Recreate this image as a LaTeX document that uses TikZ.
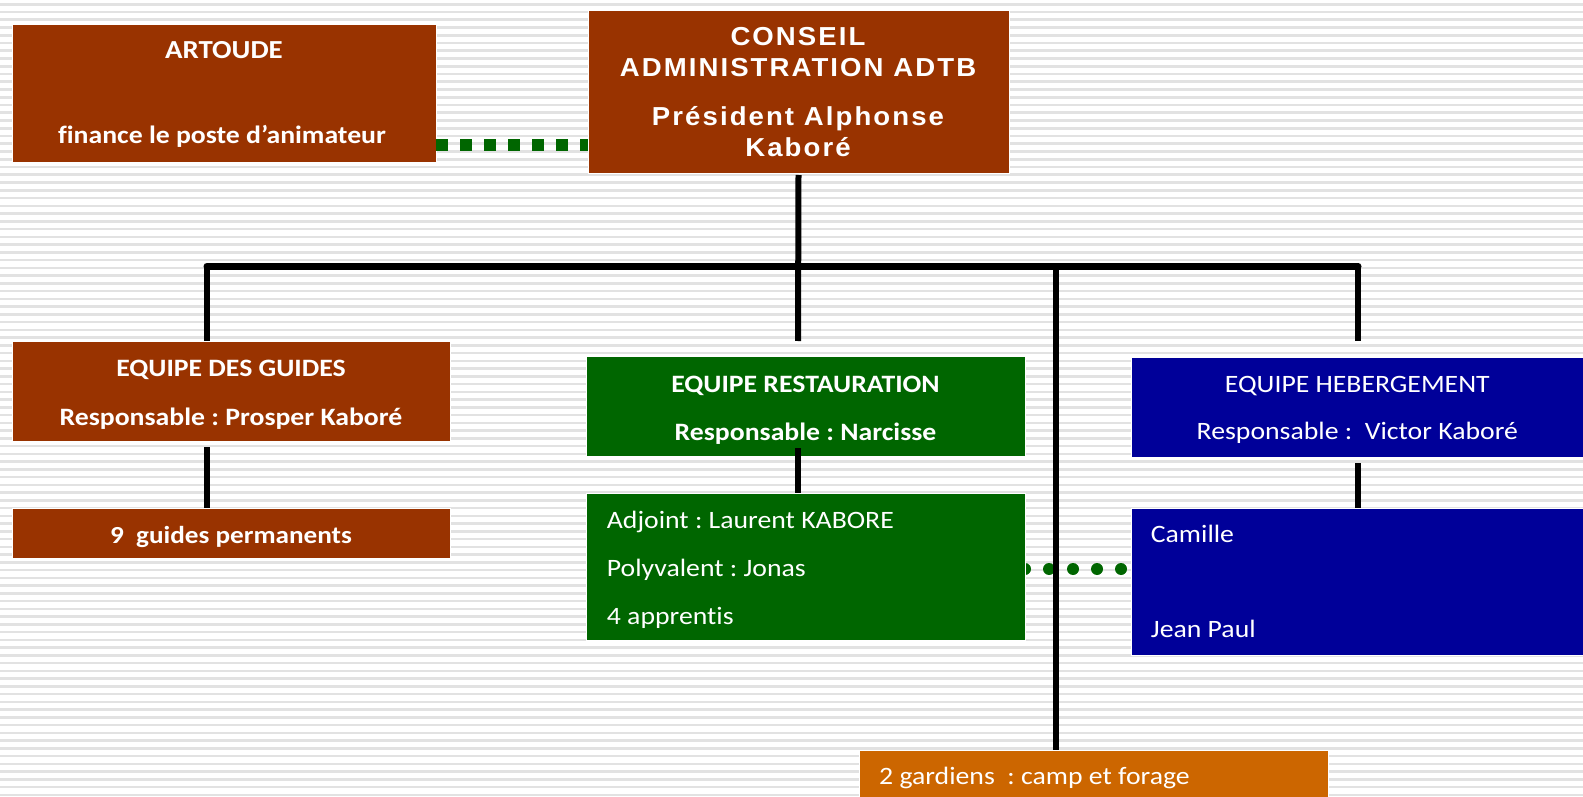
\documentclass[tikz,border=0pt]{standalone}
\usepackage{fontspec}
\setmainfont{Carlito}[FakeStretch=1.11, Ligatures=CommonOff]
\newfontfamily\conseilfont{Liberation Sans}[LetterSpace=8, FakeStretch=1.06]
\frenchspacing
\pgfdeclarelayer{bg}
\pgfsetlayers{bg,main}
\definecolor{brownbox}{HTML}{993300}
\definecolor{greenbox}{HTML}{006600}
\definecolor{bluebox}{HTML}{000099}
\definecolor{orangebox}{HTML}{CC6600}
\definecolor{stripegray}{HTML}{E2E2E2}
\tikzset{
  box/.style={draw=white, line width=0.8pt, inner sep=0pt, outer sep=0pt, anchor=north west},
  txt/.style={text=white, inner sep=0pt, anchor=base},
  txtl/.style={text=white, inner sep=0pt, anchor=base west},
  bsz/.style={font=\fontsize{25}{30}\selectfont\bfseries},
  rsz/.style={font=\fontsize{25}{30}\selectfont},
  csz/.style={font=\conseilfont\fontsize{26}{30}\selectfont\bfseries},
  tree/.style={line width=6pt, black},
  bus/.style={line width=7pt, black, line cap=round},
  gsquares/.style={line width=12pt, greenbox, dash pattern=on 11.5pt off 12.5pt},
  gdots/.style={line width=12pt, greenbox, line cap=round, dash pattern=on 0pt off 24pt},
}
\begin{document}
\begin{tikzpicture}[x=1pt,y=-1pt]
\useasboundingbox (0,0) rectangle (1583,797);
% boxes
\node[box, fill=brownbox, minimum width=424pt, minimum height=138pt] (artoude) at (12,24) {};
\node[box, fill=brownbox, minimum width=421pt, minimum height=163pt] (conseil) at (588,10) {};
\node[box, fill=brownbox, minimum width=438pt, minimum height=100pt] (guides) at (12,341) {};
\node[box, fill=brownbox, minimum width=438pt, minimum height=50pt] (nine) at (12,508) {};
\node[box, fill=greenbox, minimum width=439pt, minimum height=100pt] (resto) at (586,356) {};
\node[box, fill=greenbox, minimum width=439pt, minimum height=147pt] (adjoint) at (586,493) {};
\node[box, fill=bluebox, minimum width=460pt, minimum height=100pt] (heberg) at (1131,357) {};
\node[box, fill=bluebox, minimum width=460pt, minimum height=147pt] (camille) at (1131,508) {};
\node[box, fill=orangebox, minimum width=469pt, minimum height=60pt] (gardiens) at (859,750) {};
% texts
\node[txt, font=\fontsize{26}{30}\selectfont\bfseries] (tA1) at (224,59) {ARTOUDE};
\node[txt, bsz] (tA2) at (222,143.3) {finance le poste d’animateur};
\node[txt, csz] (tC1) at (798,46) {CONSEIL};
\node[txt, csz] (tC2) at (798,77) {ADMINISTRATION ADTB};
\node[txt, csz] (tC3) at (798,126) {Président Alphonse};
\node[txt, csz] (tC4) at (798,157) {Kaboré};
\node[txt, bsz] (tG1) at (231,376.7) {EQUIPE DES GUIDES};
\node[txt, bsz] (tG2) at (231,425) {Responsable : Prosper Kaboré};
\node[txt, font=\fontsize{24.5}{30}\selectfont\bfseries] (tN1) at (231,543) {9\ \ guides permanents};
\node[txt, bsz] (tR1) at (805.5,392.3) {EQUIPE RESTAURATION};
\node[txt, bsz] (tR2) at (805.5,440) {Responsable : Narcisse};
\node[txtl, rsz] (tJ1) at (606.7,528.3) {Adjoint : Laurent KABORE};
\node[txtl, rsz] (tJ2) at (606.7,576) {Polyvalent : Jonas};
\node[txtl, rsz] (tJ3) at (606.7,624) {4 apprentis};
\node[txt, rsz] (tH1) at (1357.3,392.3) {EQUIPE HEBERGEMENT};
\node[txt, rsz] (tH2) at (1357.3,439.3) {Responsable :\ \ Victor Kaboré};
\node[txtl, rsz] (tK1) at (1150.7,542.3) {Camille};
\node[txtl, rsz] (tK2) at (1150.7,637.7) {Jean Paul};
\node[txtl, rsz] (tW1) at (879,784.3) {2 gardiens\ \ : camp et forage};
% coordinates
\coordinate (busL) at (207,266);
\coordinate (busM) at (798,266);
\coordinate (busG) at (1056,266);
\coordinate (busR) at (1358,266);
\coordinate (endL) at (207,341);
\coordinate (endM) at (798,341);
\coordinate (endR) at (1358,341);
\coordinate (sqA) at (436,145.5);
\coordinate (sqB) at (588,145.5);
\coordinate (dotA) at (1025,569);
\coordinate (dotB) at (1131,569);
\begin{pgfonlayer}{bg}
  \foreach \i in {0,...,102} {
    \fill[stripegray] (0,{4.3+7.75*\i-1.3}) rectangle (1583,{4.3+7.75*\i+1.3});
  }
  \draw[gdots] (dotA) -- (dotB);
\end{pgfonlayer}
% connectors
\draw[gsquares] (sqA) -- (sqB);
\draw[tree] ([yshift=-2pt]conseil.south) -- (endM);
\draw[bus] (busL) -- (busR);
\draw[tree] (busL) -- (endL);
\draw[tree] (busR) -- (endR);
\draw[tree] (busG) -- (gardiens.north -| busG);
\draw[tree] ([yshift=-6pt]guides.south -| busL) -- (nine.north -| busL);
\draw[tree] ([yshift=8pt]resto.south -| busM) -- (adjoint.north -| busM);
\draw[tree] ([yshift=-6pt]heberg.south -| busR) -- (camille.north -| busR);
\end{tikzpicture}
\end{document}
